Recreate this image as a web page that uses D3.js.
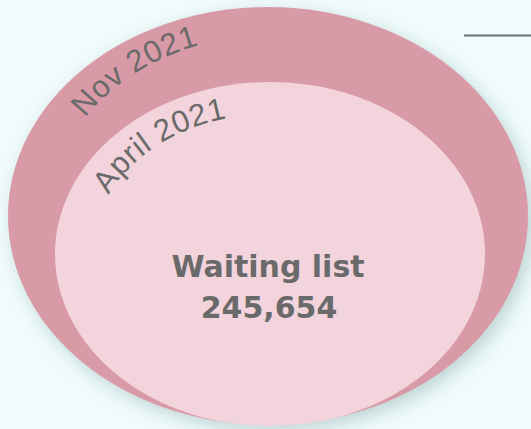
<!DOCTYPE html>
<html><head><meta charset="utf-8">
<script src="https://cdn.jsdelivr.net/npm/d3@7"></script>
<style>html,body{margin:0;padding:0;background:#f0fbfb;overflow:hidden}</style>
</head><body>
<svg id="chart" width="531" height="429"></svg>
<script>
const periods = ["Nov 2021", "April 2021"];
const centerLabel = ["Waiting list", "245,654"];
const waitingList = 245654;

const W = 531, H = 429;
const svg = d3.select("#chart");
svg.append("rect").attr("width", W).attr("height", H).attr("fill", "#f0fbfb");

const defs = svg.append("defs");
const f = defs.append("filter").attr("id", "sh").attr("x", "-20%").attr("y", "-20%").attr("width", "140%").attr("height", "140%");
f.append("feDropShadow").attr("dx", 5).attr("dy", 6).attr("stdDeviation", 9).attr("flood-color", "#7fa3a3").attr("flood-opacity", 0.45);

// ellipse geometry: outer = Nov 2021, inner = April 2021
const shapes = [
  {cx: 268, cy: 216, rx: 260, ry: 209, fill: "#d99aa8", text: {cx: 268, cy: 216, rx: 218, ry: 180, t0: 213}},
  {cx: 270, cy: 254, rx: 215, ry: 172, fill: "#f3d4dc", text: {cx: 270, cy: 254, rx: 178, ry: 140, t0: 205}}
];

shapes.forEach((s, i) => {
  svg.append("ellipse").attr("cx", s.cx).attr("cy", s.cy).attr("rx", s.rx).attr("ry", s.ry)
    .attr("fill", s.fill).attr("filter", i === 0 ? "url(#sh)" : null);
});

shapes.forEach((s, i) => {
  const t = s.text;
  const a0 = t.t0 * Math.PI / 180, a1 = (t.t0 + 100) * Math.PI / 180;
  const p0 = [t.cx + t.rx * Math.cos(a0), t.cy + t.ry * Math.sin(a0)];
  const p1 = [t.cx + t.rx * Math.cos(a1), t.cy + t.ry * Math.sin(a1)];
  defs.append("path").attr("id", "tp" + i)
    .attr("d", `M${p0[0]},${p0[1]} A${t.rx},${t.ry} 0 0 1 ${p1[0]},${p1[1]}`);
  svg.append("text").attr("font-family", "'Liberation Sans', Arimo, Arial, sans-serif").attr("font-size", 31)
    .attr("letter-spacing", 0.6).attr("fill", "#6a6a6a")
    .append("textPath").attr("href", "#tp" + i).attr("startOffset", 0).text(periods[i]);
});

const fmt = d3.format(",");
svg.append("text").attr("x", 268).attr("y", 277).attr("text-anchor", "middle")
  .attr("font-family", "DejaVu Sans").attr("font-weight", "bold").attr("font-size", 30).attr("fill", "#6a6a6a")
  .text(centerLabel[0]);
svg.append("text").attr("x", 269).attr("y", 318).attr("text-anchor", "middle")
  .attr("font-family", "DejaVu Sans").attr("font-weight", "bold").attr("font-size", 30).attr("fill", "#6a6a6a")
  .text(fmt(waitingList));

svg.append("line").attr("x1", 464).attr("x2", 531).attr("y1", 35.5).attr("y2", 35.5)
  .attr("stroke", "#6e6e6e").attr("stroke-width", 2);
</script>
</body></html>
